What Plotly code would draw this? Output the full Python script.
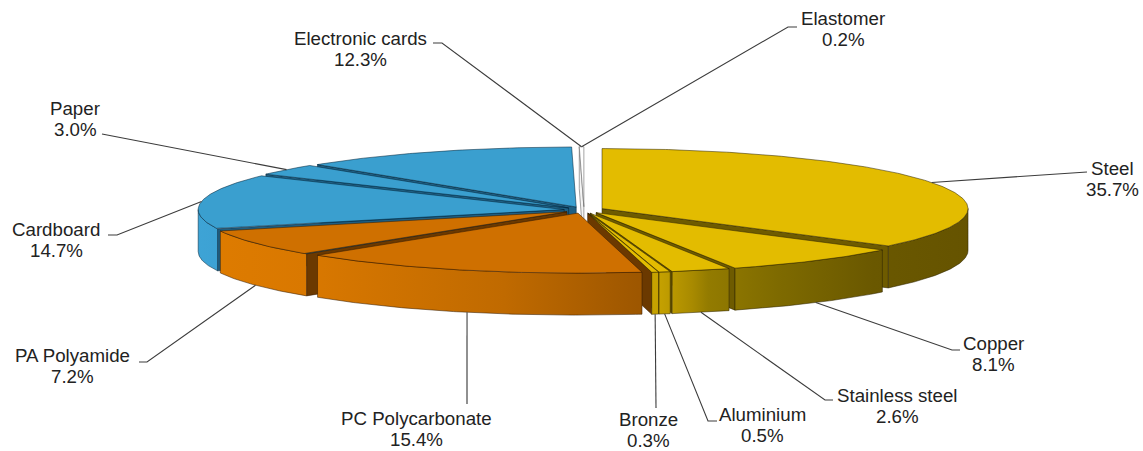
import numpy as np
import plotly.graph_objects as go

# ---------------- data ----------------
categories = ["Steel", "Copper", "Stainless steel", "Aluminium", "Bronze",
              "PC Polycarbonate", "PA Polyamide", "Cardboard", "Paper",
              "Electronic cards", "Elastomer"]
shares = [35.7, 8.1, 2.6, 0.5, 0.3, 15.4, 7.2, 14.7, 3.0, 12.3, 0.2]
groups = ["metal", "metal", "metal", "metal", "metal",
          "plastic", "plastic", "paper", "paper", "paper", "rubber"]
pct_text = [f"{v:.1f}%" for v in shares]

# ---------------- layout / style ----------------
W, H = 1143, 451
CX, CY = 584, 210          # pie centre (px)
RX, RY = 366, 60           # ellipse semi-axes of the top face
DEPTH = 42                 # thickness of the pie
EXPLODE = 20               # explosion distance

top_color = {"metal": "#E3BC00", "plastic": "#CF7000", "paper": "#3A9FCF", "rubber": "#FFFFFF"}
face_color = {"metal": "#6E5B00", "plastic": "#6B3900", "paper": "#1F5F82", "rubber": "#F4F4F4"}
edge_color = {"metal": "rgba(45,35,0,0.75)", "plastic": "rgba(50,25,0,0.75)",
              "paper": "rgba(0,35,55,0.75)", "rubber": "rgba(110,110,110,0.9)"}
wall_scale = {
    "metal": [[0, "#E2BA00"], [0.55, "#D2AC00"], [0.6, "#C4A000"], [0.64, "#A88A00"],
              [0.66, "#937B00"], [0.75, "#7E6A00"], [0.87, "#6A5800"], [1, "#655300"]],
    "plastic": [[0, "#DF7C00"], [0.15, "#D97800"], [0.4, "#C06A00"], [0.57, "#9E5700"], [1, "#6E3D00"]],
    "paper": [[0, "#3EA4D6"], [0.1, "#3A9ED0"], [1, "#1F6A90"]],
    "rubber": [[0, "#FFFFFF"], [1, "#E0E0E0"]],
}
GRAD_X0, GRAD_X1 = 190, 975
# the cut face between Bronze and PC is rendered in the PC shade in the original
face_group_override = {(4, "end"): "plastic"}

# label placement (centre of first text line) and leader paths (elbow -> end)
label_xy = [(1112, 168), (993, 343), (897, 395), (762, 414), (648, 419), (416, 418),
            (72, 355), (56, 229), (75, 108), (360, 38), (843, 18)]
LINE_GAP = 21.5
leader_path = [
    [(1079, 172), (1087, 172)],
    [(952, 350), (960, 350)],
    [(825, 400), (833, 400)],
    [(708, 421), (717, 421)],
    [(656, 408)],
    [(467, 404)],
    [(147, 362), (139, 362)],
    [(117, 235), (108, 235)],
    [(110, 135), (102, 134)],
    [(442, 43), (433, 43)],
    [(788, 27), (797, 27)],
]
leader_target = [None] * len(categories)
leader_target[9] = 10      # Excel pointed the "Electronic cards" leader at the same spot as "Elastomer"

FONT = dict(family="Liberation Sans, Arial, sans-serif", size=18.7, color="#222222")

# ---------------- geometry from the data ----------------
total = float(sum(shares))
vals = np.array(shares, dtype=float)
starts = np.concatenate([[0.0], np.cumsum(vals)[:-1]]) / total * 360.0
ends = starts + vals / total * 360.0
mids = (starts + ends) / 2.0
offs = [(EXPLODE * np.sin(np.radians(m)), -EXPLODE * RY / RX * np.cos(np.radians(m))) for m in mids]


def pt(i, ang, r=1.0, z=0.0):
    dx, dy = offs[i]
    t = np.radians(ang)
    return CX + dx + RX * r * np.sin(t), CY + dy - RY * r * np.cos(t) + z


def arc(i, a0, a1, z=0.0):
    n = max(2, int(abs(a1 - a0) / 0.5) + 2)
    angs = np.linspace(a0, a1, n)
    xs, ys = pt(i, angs, 1.0, z)
    return list(xs), list(ys)


walls = []   # (key, xs, ys, kind, i, group)
for i in range(len(categories)):
    s, e = starts[i], ends[i]
    # outer curved wall (front half only)
    a0, a1 = max(s, 90.0), min(e, 270.0)
    if a1 > a0:
        tx, ty = arc(i, a0, a1, 0.0)
        bx, by = arc(i, a0, a1, DEPTH)
        xs = tx + bx[::-1] + [tx[0]]
        ys = ty + by[::-1] + [ty[0]]
        walls.append((float(np.mean(ty)) + 5, xs, ys, "outer", i, groups[i]))
    # radial cut faces that face the viewer
    for side, ang, vis in (("start", s, np.sin(np.radians(s)) < -1e-9),
                           ("end", e, np.sin(np.radians(e)) > 1e-9)):
        if vis:
            p0 = pt(i, ang, 0.0, 0.0)
            p1 = pt(i, ang, 1.0, 0.0)
            p2 = pt(i, ang, 1.0, DEPTH)
            p3 = pt(i, ang, 0.0, DEPTH)
            xs = [p0[0], p1[0], p2[0], p3[0], p0[0]]
            ys = [p0[1], p1[1], p2[1], p3[1], p0[1]]
            g = face_group_override.get((i, side), groups[i])
            walls.append(((p0[1] + p1[1]) / 2.0, xs, ys, "face", i, g))

walls.sort(key=lambda w: w[0])

fig = go.Figure()

for key, xs, ys, kind, i, g in walls:
    if kind == "outer":
        fig.add_trace(go.Scatter(
            x=xs, y=ys, mode="lines", fill="toself",
            fillgradient=dict(type="horizontal", colorscale=wall_scale[g],
                              start=GRAD_X0, stop=GRAD_X1),
            line=dict(color=edge_color[g], width=0.7),
            hoverinfo="skip", showlegend=False))
    else:
        fig.add_trace(go.Scatter(
            x=xs, y=ys, mode="lines", fill="toself", fillcolor=face_color[g],
            line=dict(color=edge_color[g], width=0.7),
            hoverinfo="skip", showlegend=False))

# top faces
for i in range(len(categories)):
    g = groups[i]
    ax, ay = pt(i, mids[i], 0.0)
    tx, ty = arc(i, starts[i], ends[i], 0.0)
    fig.add_trace(go.Scatter(
        x=[ax] + tx + [ax], y=[ay] + ty + [ay], mode="lines", fill="toself",
        fillcolor=top_color[g], line=dict(color=edge_color[g], width=0.7),
        name=categories[i], hoverinfo="name", showlegend=False))

# leader lines
lx, ly = [], []
for i in range(len(categories)):
    j = leader_target[i] if leader_target[i] is not None else i
    m = mids[j]
    if np.cos(np.radians(m)) < 0:
        a = pt(j, m, 1.0, DEPTH)
    else:
        a = pt(j, m, 1.0, 0.0)
    pts = [a] + leader_path[i]
    lx += [p[0] for p in pts] + [None]
    ly += [p[1] for p in pts] + [None]
fig.add_trace(go.Scatter(x=lx, y=ly, mode="lines",
                         line=dict(color="#3C3C3C", width=1.1),
                         hoverinfo="skip", showlegend=False))

# labels
for i in range(len(categories)):
    x, y = label_xy[i]
    fig.add_annotation(x=x, y=y, text=categories[i], showarrow=False,
                       xanchor="center", yanchor="middle", font=FONT)
    fig.add_annotation(x=x, y=y + LINE_GAP, text=pct_text[i], showarrow=False,
                       xanchor="center", yanchor="middle", font=FONT)

fig.update_layout(
    width=W, height=H,
    margin=dict(l=0, r=0, t=0, b=0),
    paper_bgcolor="white", plot_bgcolor="white",
    xaxis=dict(range=[0, W], visible=False, fixedrange=True),
    yaxis=dict(range=[H, 0], visible=False, fixedrange=True),
    showlegend=False,
)

fig.write_html("out.html")
